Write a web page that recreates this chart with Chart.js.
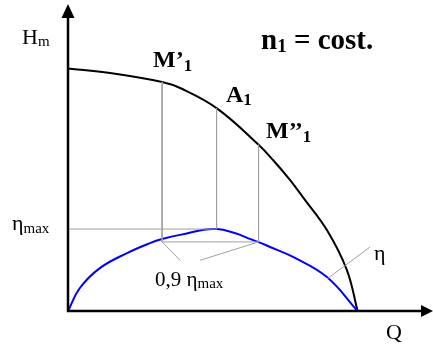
<!DOCTYPE html>
<html>
<head>
<meta charset="utf-8">
<script src="https://cdn.jsdelivr.net/npm/chart.js@4/dist/chart.umd.min.js"></script>
<style>
  body { margin: 0; background: #fff; }
  #wrap { width: 433px; height: 347px; position: relative; }
</style>
</head>
<body>
<div id="wrap"><canvas id="pumpChart"></canvas></div>
<script>
// head curve H(Q) at constant speed n1
const flowHead = [0, 14.5, 32.5, 38.7, 51.3, 65.8, 70.8, 76.7, 81.1, 89.4, 96.3, 100];
const head = [100, 98.2, 94.5, 92.0, 83.7, 68.6, 62.3, 54.0, 47.0, 33.4, 16.9, 0];

// efficiency curve eta(Q)
const flowEta = [0, 4.1, 11.0, 20.4, 28.3, 32.5, 38.7, 51.5, 65.6, 69.8, 77.7, 89.4, 100];
const eta = [0, 9.5, 17.7, 23.9, 28.0, 29.7, 31.4, 33.8, 28.5, 26.4, 22.3, 14.0, 0];

// operating points M'1, A1, M''1 and the 0,9 eta_max level
const flowM1 = 32.5, headM1 = 94.5;
const flowA1 = 51.3, headA1 = 83.7;
const flowM2 = 65.8, headM2 = 68.6;
const etaMax = Math.max(...eta);
const etaLow = 28.5;

// leader lines towards the labels
const leaderLow = [[38.7, 20.9], [45.6, 20.9]];
const leaderEta = [[89.4, 13.2], [104.3, 26.4]];

const grey = "#a0a0a0";
const serif = "'Liberation Serif', 'Times New Roman', serif";

function pts(xs, ys) {
  return xs.map((x, i) => ({ x: x, y: ys[i] }));
}

function greyLine(a, b) {
  return {
    data: [{ x: a[0], y: a[1] }, { x: b[0], y: b[1] }],
    borderColor: grey,
    borderWidth: 1,
    pointRadius: 0,
    tension: 0,
    clip: false
  };
}

const datasets = [
  greyLine([0, etaMax], [flowA1, etaMax]),
  greyLine([flowM1, headM1], [flowM1, etaLow]),
  greyLine([flowA1, headA1], [flowA1, etaMax]),
  greyLine([flowM2, headM2], [flowM2, etaLow]),
  greyLine([flowM1, etaLow], [flowM2, etaLow]),
  greyLine([flowM1, etaLow], leaderLow[0]),
  greyLine(leaderLow[1], [flowM2, etaLow]),
  greyLine(leaderEta[0], leaderEta[1]),
  {
    data: pts(flowEta, eta),
    borderColor: "#0000ff",
    borderWidth: 2,
    pointRadius: 0,
    tension: 0.4,
    clip: false
  },
  {
    data: pts(flowHead, head),
    borderColor: "#000",
    borderWidth: 2,
    pointRadius: 0,
    tension: 0.4,
    clip: false
  }
];

// draws a run of text pieces: [text, size, bold, dy]
function runText(ctx, x, y, parts) {
  parts.forEach(p => {
    ctx.font = (p[2] ? "bold " : "") + p[1] + "px " + serif;
    ctx.fillText(p[0], x, y + (p[3] || 0));
    x += ctx.measureText(p[0]).width;
  });
}

const axesAndLabels = {
  id: "axesAndLabels",
  afterDatasetsDraw(chart) {
    const ctx = chart.ctx;
    const area = chart.chartArea;
    const xs = chart.scales.x, ys = chart.scales.y;
    const x0 = xs.getPixelForValue(0), y0 = ys.getPixelForValue(0);

    ctx.save();
    ctx.strokeStyle = "#000";
    ctx.fillStyle = "#000";
    ctx.lineWidth = 2.5;
    ctx.beginPath();
    ctx.moveTo(x0, y0 + 1);
    ctx.lineTo(x0, 16);
    ctx.moveTo(x0 - 1, y0);
    ctx.lineTo(area.right - 8, y0);
    ctx.stroke();

    // arrow heads
    ctx.beginPath();
    ctx.moveTo(x0, 4);
    ctx.lineTo(x0 - 6.5, 18);
    ctx.lineTo(x0 + 6.5, 18);
    ctx.closePath();
    ctx.fill();
    ctx.beginPath();
    ctx.moveTo(433, y0);
    ctx.lineTo(421, y0 - 6);
    ctx.lineTo(421, y0 + 6);
    ctx.closePath();
    ctx.fill();

    ctx.textBaseline = "alphabetic";
    runText(ctx, 22, 44, [["H", 22], ["m", 15, false, 2]]);
    runText(ctx, 386, 339, [["Q", 22]]);
    runText(ctx, 261, 49, [["n", 29, true], ["1", 19, true, 3], [" = cost.", 29, true]]);
    runText(ctx, 153, 67, [["M\u2019", 24, true], ["1", 17, true, 4]]);
    runText(ctx, 226, 102, [["A", 24, true], ["1", 17, true, 3]]);
    runText(ctx, 266, 138, [["M\u2019\u2019", 24, true], ["1", 17, true, 4]]);
    runText(ctx, 12, 230, [["\u03b7", 22], ["max", 15, false, 3]]);
    runText(ctx, 155, 286, [["0,9 \u03b7", 21], ["max", 15, false, 2]]);
    runText(ctx, 374, 260, [["\u03b7", 22]]);
    ctx.restore();
  }
};

new Chart(document.getElementById("pumpChart"), {
  type: "line",
  data: { datasets: datasets },
  options: {
    responsive: true,
    maintainAspectRatio: false,
    animation: false,
    layout: { padding: { left: 68, top: 8, right: 3, bottom: 36 } },
    plugins: { legend: { display: false }, tooltip: { enabled: false } },
    scales: {
      x: { type: "linear", min: 0, max: 125, display: false },
      y: { type: "linear", min: 0, max: 125, display: false }
    }
  },
  plugins: [axesAndLabels]
});
</script>
</body>
</html>
